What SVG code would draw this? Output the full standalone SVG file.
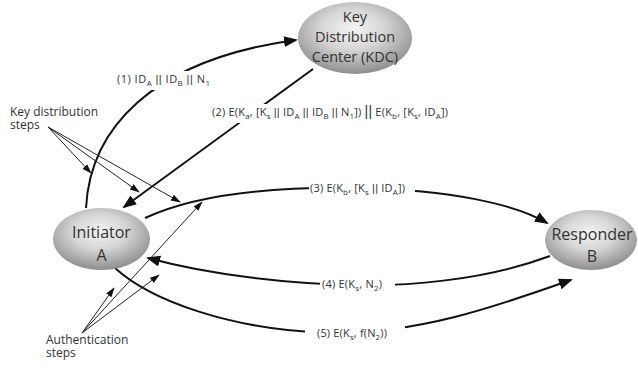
<svg xmlns="http://www.w3.org/2000/svg" width="638" height="370" viewBox="0 0 638 370">
  <style>
    .node-text { font-family: "Open Sans", "DejaVu Sans", sans-serif; font-size: 16px; fill: #333; text-anchor: middle; }
    .kdc-text { font-size: 14.5px; }
    .label { font-family: "Open Sans", "DejaVu Sans", sans-serif; font-size: 11px; fill: #333; }
    .sub { font-size: 8px; }
    .bar { font-family: "Liberation Sans", Arial, sans-serif; }
    .note { font-family: "Open Sans", "DejaVu Sans", sans-serif; font-size: 12px; fill: #333; }
    .conn { fill: none; stroke: #111; stroke-width: 2; marker-end: url(#head); }
    .thin { fill: none; stroke: #222; stroke-width: 1; marker-end: url(#headSmall); }
    .mask { fill: #fff; }
  </style>
  <defs>
    <radialGradient id="ball" cx="48%" cy="38%" r="62%">
      <stop offset="0" stop-color="#f4f4f4"/>
      <stop offset="0.45" stop-color="#d6d6d6"/>
      <stop offset="1" stop-color="#8e8e8e"/>
    </radialGradient>
    <marker id="head" markerUnits="userSpaceOnUse" markerWidth="16" markerHeight="12" refX="12" refY="5.5" orient="auto">
      <path d="M0,0 L14,5.5 L0,11 z" fill="#111"/>
    </marker>
    <marker id="headSmall" markerUnits="userSpaceOnUse" markerWidth="11" markerHeight="8" refX="9" refY="3.25" orient="auto">
      <path d="M0,0 L10,3.25 L0,6.5 z" fill="#111"/>
    </marker>
  </defs>

  <!-- message connectors -->
  <g id="connectors">
    <path class="conn" d="M86,208 C90,130 150,60 296,40"/>
    <path class="conn" d="M313,69 L124,207"/>
    <path class="conn" d="M145,218 C190,197 260,186 360,188 C450,190 515,204 547,223"/>
    <path class="conn" d="M550,256 C480,282 400,286 358,285 C290,284 210,275 148,258"/>
    <path class="conn" d="M115,268 C150,300 230,330 330,333 C420,334 500,305 571,280"/>
    <!-- annotation pointers -->
    <path class="thin" d="M48,127 L91,173"/>
    <path class="thin" d="M48,127 L139,192"/>
    <path class="thin" d="M48,127 L180,202"/>
    <path class="thin" d="M82,333 L114,288"/>
    <path class="thin" d="M82,333 L202,202"/>
    <path class="thin" d="M82,333 L159,275"/>
  </g>

  <!-- message labels, each on a white backing that breaks its line -->
  <g id="labels">
    <rect class="mask" x="115" y="71" width="97" height="19"/>
    <text class="label" x="117" y="83" textLength="93" lengthAdjust="spacing">(1) ID<tspan class="sub" dy="3">A</tspan><tspan dy="-3"> </tspan><tspan class="bar">||</tspan> ID<tspan class="sub" dy="3">B</tspan><tspan dy="-3"> </tspan><tspan class="bar">||</tspan> N<tspan class="sub" dy="3">1</tspan></text>

    <rect class="mask" x="210" y="104" width="240" height="19"/>
    <text class="label" x="212" y="116" textLength="236" lengthAdjust="spacing">(2) E(K<tspan class="sub" dy="3">a</tspan><tspan dy="-3">, [K</tspan><tspan class="sub" dy="3">s</tspan><tspan dy="-3"> </tspan><tspan class="bar">||</tspan> ID<tspan class="sub" dy="3">A</tspan><tspan dy="-3"> </tspan><tspan class="bar">||</tspan> ID<tspan class="sub" dy="3">B</tspan><tspan dy="-3"> </tspan><tspan class="bar">||</tspan> N<tspan class="sub" dy="3">1</tspan><tspan dy="-3">]) </tspan><tspan class="bar" font-size="14">||</tspan> E(K<tspan class="sub" dy="3">b</tspan><tspan dy="-3">, [K</tspan><tspan class="sub" dy="3">s</tspan><tspan dy="-3">, ID</tspan><tspan class="sub" dy="3">A</tspan><tspan dy="-3">])</tspan></text>

    <rect class="mask" x="309" y="180" width="106" height="18"/>
    <text class="label" x="310" y="192" textLength="95" lengthAdjust="spacing">(3) E(K<tspan class="sub" dy="3">b</tspan><tspan dy="-3">, [K</tspan><tspan class="sub" dy="3">s</tspan><tspan dy="-3"> </tspan><tspan class="bar">||</tspan> ID<tspan class="sub" dy="3">A</tspan><tspan dy="-3">])</tspan></text>

    <rect class="mask" x="320" y="276" width="75" height="18"/>
    <text class="label" x="322" y="288" textLength="60" lengthAdjust="spacing">(4) E(K<tspan class="sub" dy="3">s</tspan><tspan dy="-3">, N</tspan><tspan class="sub" dy="3">2</tspan><tspan dy="-3">)</tspan></text>

    <rect class="mask" x="305" y="325" width="100" height="18"/>
    <text class="label" x="317" y="337" textLength="70" lengthAdjust="spacing">(5) E(K<tspan class="sub" dy="3">s</tspan><tspan dy="-3">, f(N</tspan><tspan class="sub" dy="3">2</tspan><tspan dy="-3">))</tspan></text>
  </g>

  <!-- parties -->
  <g id="kdc">
    <ellipse cx="355" cy="38" rx="57" ry="36" fill="url(#ball)"/>
    <text class="node-text kdc-text" x="355" y="22">Key</text>
    <text class="node-text kdc-text" x="355" y="42">Distribution</text>
    <text class="node-text kdc-text" x="355" y="62">Center (KDC)</text>
  </g>
  <g id="initiator">
    <ellipse cx="101.5" cy="239" rx="48.5" ry="31" fill="url(#ball)"/>
    <text class="node-text" x="101.5" y="238">Initiator</text>
    <text class="node-text" x="101.5" y="261">A</text>
  </g>
  <g id="responder">
    <ellipse cx="591" cy="240" rx="46" ry="30" fill="url(#ball)"/>
    <text class="node-text" x="592" y="240">Responder</text>
    <text class="node-text" x="592" y="262">B</text>
  </g>

  <!-- annotations -->
  <g id="key-distribution-note">
    <text class="note" x="10" y="116">Key distribution<tspan x="10" dy="13">steps</tspan></text>
  </g>
  <g id="authentication-note">
    <text class="note" x="46" y="344">Authentication<tspan x="46" dy="13">steps</tspan></text>
  </g>
</svg>
